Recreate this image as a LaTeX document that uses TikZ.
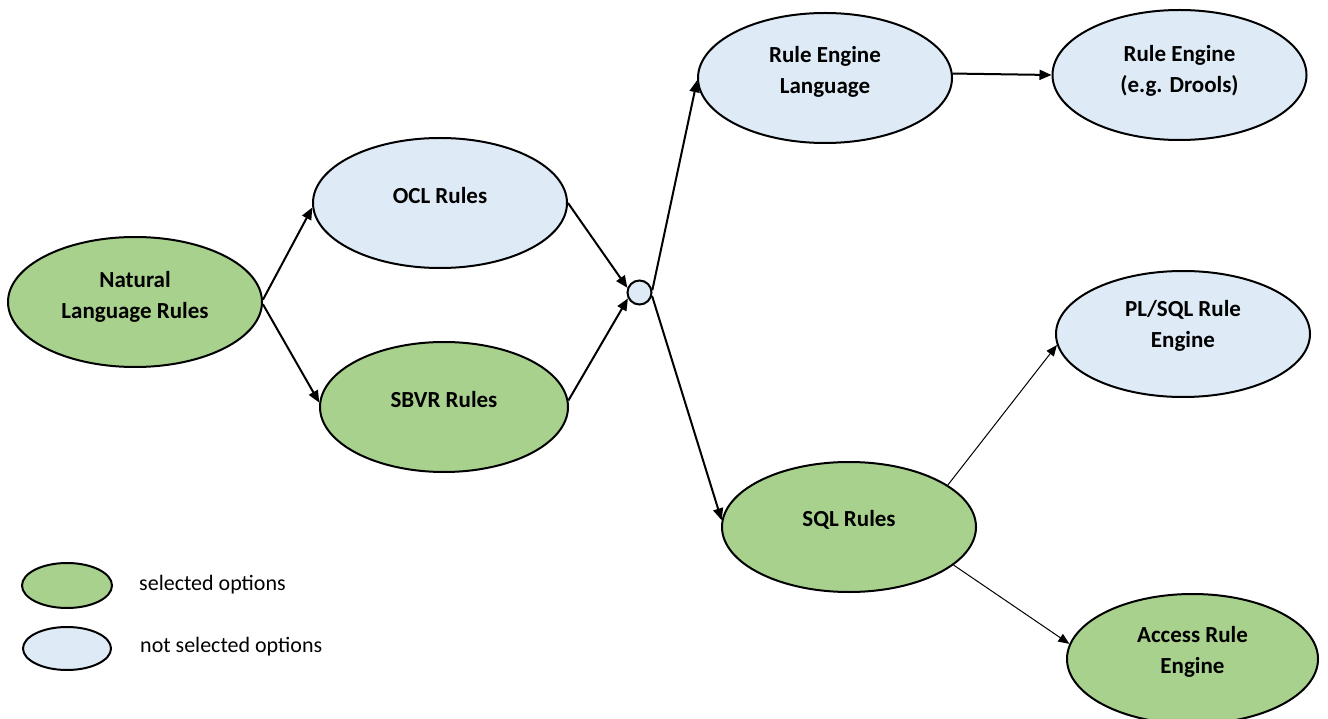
\documentclass[tikz,border=0pt]{standalone}
\usepackage{fontspec}
\setmainfont{Carlito}
\usetikzlibrary{arrows.meta,shapes.geometric}
\definecolor{selgreen}{HTML}{A9D18E}
\definecolor{optblue}{HTML}{DEEBF7}
\begin{document}
\begin{tikzpicture}[x=1pt,y=-1pt,
  opt/.style={ellipse, draw=black, line width=2pt, inner sep=0pt,
              minimum width=254pt, minimum height=130pt},
  sel/.style={opt, fill=selgreen},
  nsel/.style={opt, fill=optblue},
  lbl/.style={font=\bfseries\fontsize{23}{31}\selectfont, align=center, text=black, inner sep=0pt},
  flow/.style={-{Triangle[length=12pt,width=10pt]}, line width=2pt},
  thinflow/.style={-{Triangle[length=11pt,width=9pt]}, line width=1pt},
  keytext/.style={font=\fontsize{22}{26}\selectfont, anchor=west, inner sep=0pt}]

% canvas
\fill[white] (0,0) rectangle (1328,719);
\useasboundingbox (0,0) rectangle (1328,719);

% option ellipses
\node[sel] (nl) at (135,302) {};
\node[nsel] (ocl) at (440,203) {};
\node[sel, minimum width=248pt] (sbvr) at (444,407) {};
\node[circle, draw=black, line width=2pt, fill=optblue, minimum size=24pt, inner sep=0pt] (join) at (639.5,292.5) {};
\node[nsel] (rel) at (825,78) {};
\node[nsel] (drools) at (1179.5,75) {};
\node[nsel, minimum height=126pt] (plsql) at (1183,334) {};
\node[sel] (sql) at (849,527) {};
\node[sel, minimum width=251pt] (access) at (1192.5,659) {};

% labels, set a little above each centre
\node[lbl] (nl-t) at ([yshift=5pt]nl.center) {Natural\\Language Rules};
\node[lbl] (ocl-t) at ([yshift=7pt]ocl.center) {OCL Rules};
\node[lbl] (sbvr-t) at ([yshift=7pt]sbvr.center) {SBVR Rules};
\node[lbl] (rel-t) at ([yshift=6pt]rel.center) {Rule Engine\\Language};
\node[lbl] (drools-t) at ([yshift=4pt]drools.center) {Rule Engine\\(e.g. Drools)};
\node[lbl] (plsql-t) at ([yshift=8pt]plsql.center) {PL/SQL Rule\\Engine};
\node[lbl] (sql-t) at ([yshift=7pt]sql.center) {SQL Rules};
\node[lbl] (access-t) at ([yshift=7pt]access.center) {Access Rule\\Engine};

% connectors
\draw[flow] (nl.1) -- (ocl.182);
\draw[flow] (nl.359) -- (sbvr.178);
\draw[flow] (ocl.0) -- (join.159);
\draw[flow] (sbvr.3) -- (join.207);
\draw[flow] (join.10) -- (rel.181);
\draw[flow] (join.345) -- (sql.177);
\draw[flow] (rel.2) -- (drools.180);
\draw[thinflow] (sql.23) -- (plsql.185);
\draw[thinflow] (sql.340) -- (access.173);

% key
\node[sel, minimum width=90pt, minimum height=45pt] (keysel) at (67,585.5) {};
\node[nsel, minimum width=88pt, minimum height=43pt] (keynsel) at (67,648.5) {};
\node[keytext] (keysel-t) at (139,585) {selected options};
\node[keytext] (keynsel-t) at (140,647) {not selected options};
\end{tikzpicture}
\end{document}
